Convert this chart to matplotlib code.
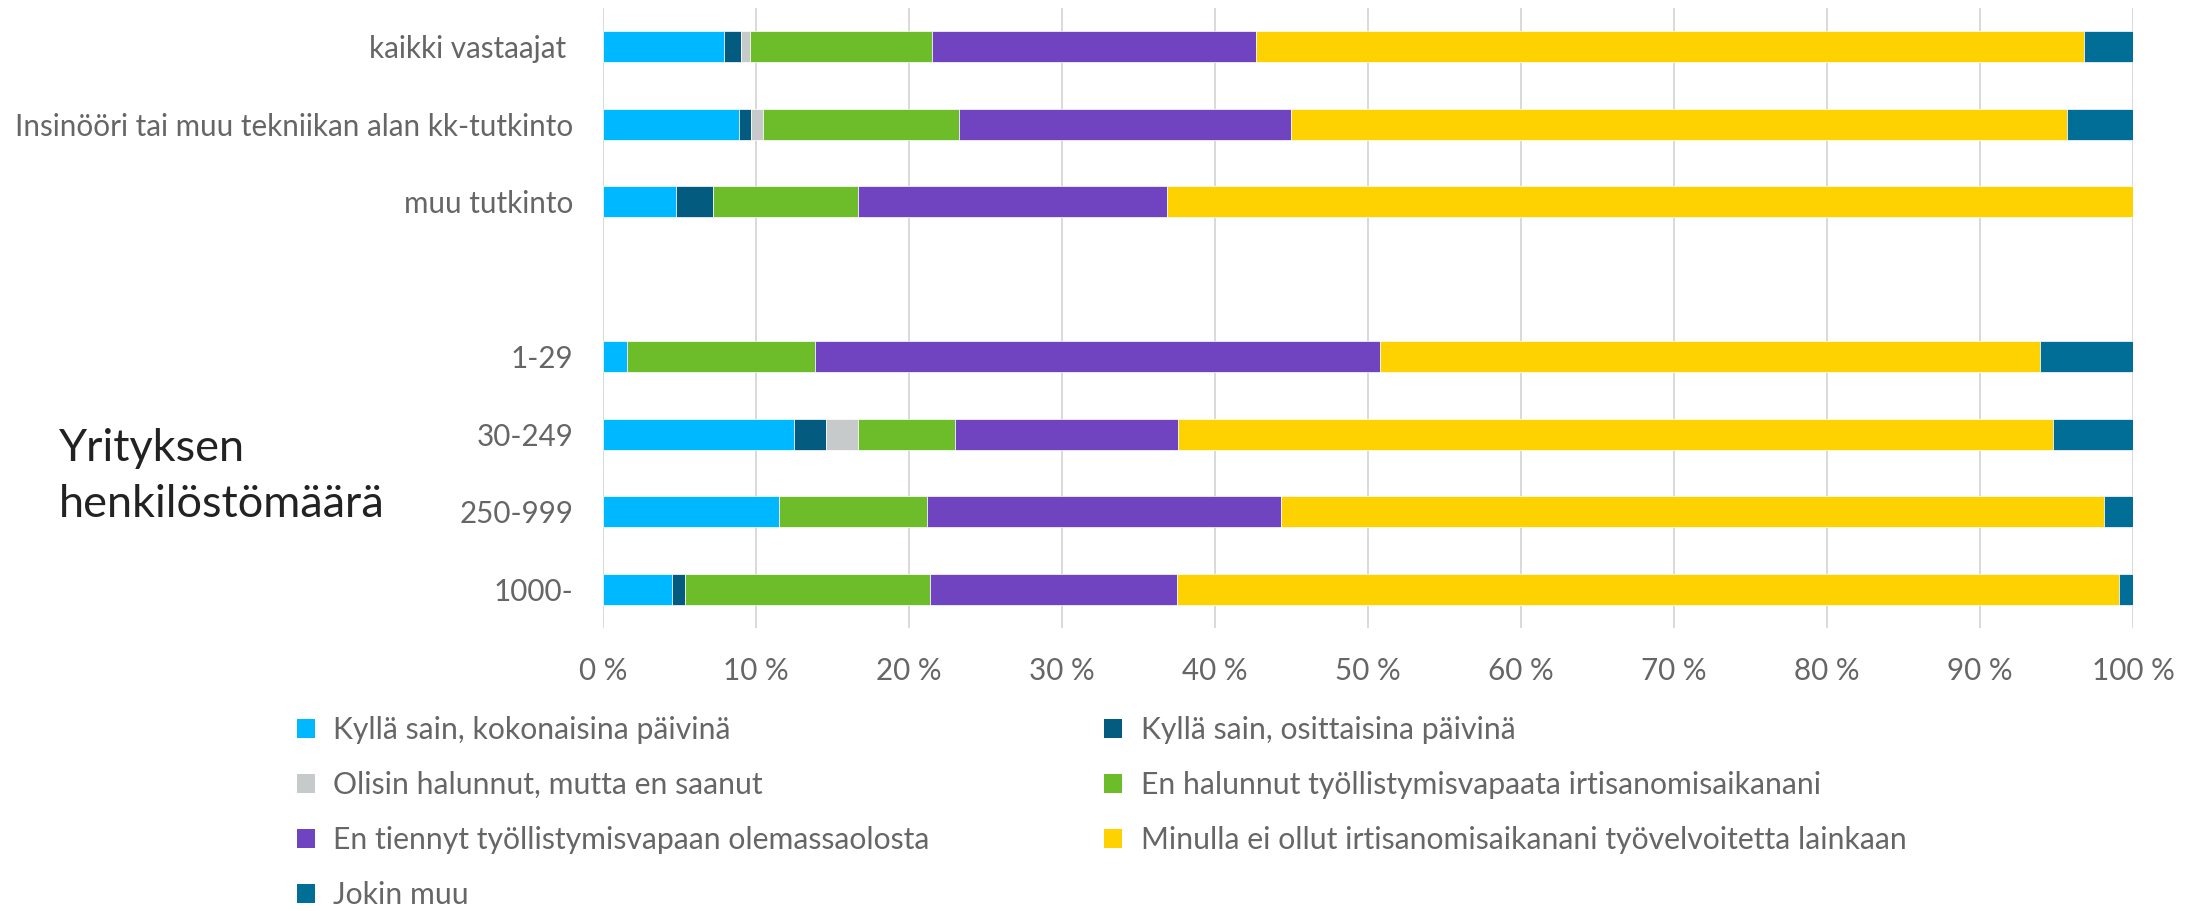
import matplotlib.pyplot as plt
from matplotlib.patches import Patch
import numpy as np

plt.rcParams['font.family'] = ['Lato', 'DejaVu Sans']

categories = ['kaikki vastaajat ', 'Insinööri tai muu tekniikan alan kk-tutkinto',
              'muu tutkinto', '1-29', '30-249', '250-999', '1000-']

series = ['Kyllä sain, kokonaisina päivinä',
          'Kyllä sain, osittaisina päivinä',
          'Olisin halunnut, mutta en saanut',
          'En halunnut työllistymisvapaata irtisanomisaikanani',
          'En tiennyt työllistymisvapaan olemassaolosta',
          'Minulla ei ollut irtisanomisaikanani työvelvoitetta lainkaan',
          'Jokin muu']

colors = ['#00B8FF', '#035C80', '#C6CACA', '#6CBD29', '#7044C1', '#FDD200', '#006E97']

# shares in percent, one list per series, rows in category order
kokonaisina = [7.9, 8.9, 4.8, 1.6, 12.5, 11.5, 4.5]
osittaisina = [1.1, 0.8, 2.4, 0.0, 2.1, 0.0, 0.9]
ei_saanut = [0.6, 0.8, 0.0, 0.0, 2.1, 0.0, 0.0]
ei_halunnut = [11.9, 12.8, 9.5, 12.3, 6.3, 9.7, 16.0]
ei_tiennyt = [21.2, 21.7, 20.2, 36.9, 14.6, 23.1, 16.1]
ei_tyovelvoitetta = [54.1, 50.7, 63.1, 43.1, 57.2, 53.8, 61.6]
jokin_muu = [3.2, 4.3, 0.0, 6.1, 5.2, 1.9, 0.9]

values = [kokonaisina, osittaisina, ei_saanut, ei_halunnut,
          ei_tiennyt, ei_tyovelvoitetta, jokin_muu]

fig = plt.figure(figsize=(22, 9.11), dpi=100)
ax = fig.add_axes([0.274, 0.3106, 0.6955, 0.6806])

# empty slot between the education rows and the company size rows
y = np.arange(len(categories), dtype=float)
y[3:] += 1
left = np.zeros(len(categories))
for name, vals, col in zip(series, values, colors):
    vals = np.array(vals, dtype=float)
    ax.barh(y, vals, left=left, height=0.4, color=col, label=name,
            edgecolor='white', linewidth=0.5)
    left += vals

ax.set_xlim(0, 100)
ax.set_ylim(7.5, -0.5)
ax.set_xticks(np.arange(0, 101, 10))
ax.set_xticklabels(['{} %'.format(v) for v in range(0, 101, 10)])
ax.set_yticks(y)
ax.set_yticklabels(categories)
ax.tick_params(axis='both', length=0, labelsize=21.3, colors='#666666')
ax.tick_params(axis='x', pad=21)
ax.tick_params(axis='y', pad=21)
ax.xaxis.grid(True, color='#D9D9D9', linewidth=1.4)
ax.set_axisbelow(True)
for s in ax.spines.values():
    s.set_visible(False)

fig.text(59 / 2200, 1 - 461 / 911, 'Yrityksen', fontsize=32.5,
         color='#222222', ha='left', va='baseline')
fig.text(59 / 2200, 1 - 517 / 911, 'henkilöstömäärä', fontsize=32.5,
         color='#222222', ha='left', va='baseline')

handles = [Patch(facecolor=c, edgecolor='none') for c in colors]
order = [0, 2, 4, 6, 1, 3, 5]
fig.legend([handles[i] for i in order], [series[i] for i in order],
           loc='upper left', bbox_to_anchor=(297 / 2200, 1 - 716 / 911),
           ncol=2, frameon=False, fontsize=21.7, labelcolor='#666666',
           handlelength=0.6, handleheight=0.6, handletextpad=0.6,
           labelspacing=0.9, columnspacing=5.8, borderpad=0, borderaxespad=0)

fig.savefig('out.png', dpi=100)
